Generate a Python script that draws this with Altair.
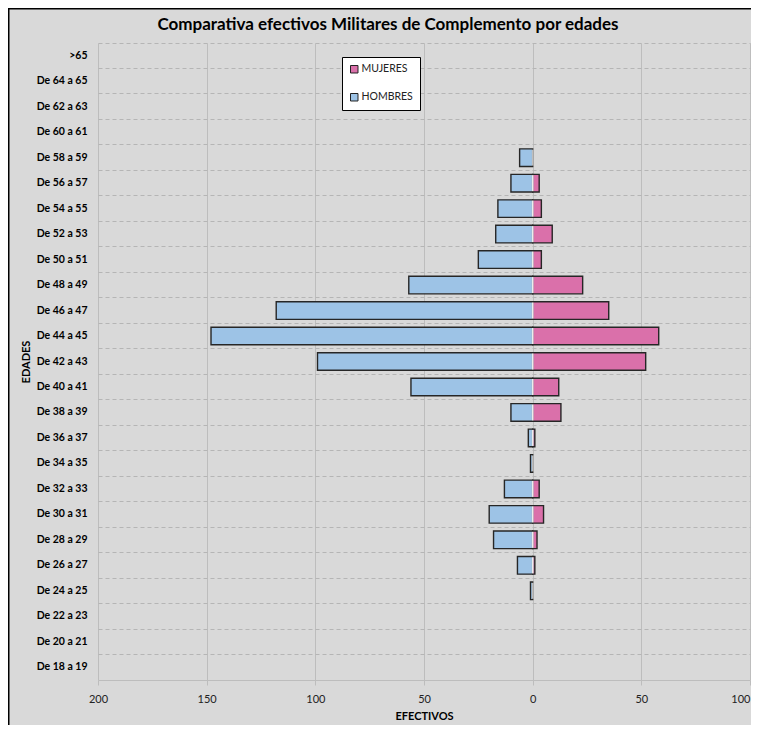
import altair as alt
import pandas as pd

edades = [">65", "De 64 a 65", "De 62 a 63", "De 60 a 61", "De 58 a 59", "De 56 a 57",
          "De 54 a 55", "De 52 a 53", "De 50 a 51", "De 48 a 49", "De 46 a 47", "De 44 a 45",
          "De 42 a 43", "De 40 a 41", "De 38 a 39", "De 36 a 37", "De 34 a 35", "De 32 a 33",
          "De 30 a 31", "De 28 a 29", "De 26 a 27", "De 24 a 25", "De 22 a 23", "De 20 a 21",
          "De 18 a 19"]
hombres = [0, 0, 0, 0, 6, 10, 16, 17, 25, 57, 118, 148, 99, 56, 10, 2, 1, 13, 20, 18, 7, 1, 0, 0, 0]
mujeres = [0, 0, 0, 0, 0, 3, 4, 9, 4, 23, 35, 58, 52, 12, 13, 1, 0, 3, 5, 2, 1, 0, 0, 0, 0]
x_ticks = [-200, -150, -100, -50, 0, 50, 100]

FONT = "Lato, Carlito, Calibri, sans-serif"

rows = []
for e, h, m in zip(edades, hombres, mujeres):
    rows.append({"edad": e, "sexo": "HOMBRES", "valor": -h})
    rows.append({"edad": e, "sexo": "MUJERES", "valor": m})
df = pd.DataFrame(rows)

W, H = 652, 637

y_enc = alt.Y(
    "edad:N",
    sort=edades,
    scale=alt.Scale(domain=edades, paddingInner=0, paddingOuter=0),
    axis=alt.Axis(
        title="EDADES", titleFont=FONT, titleFontSize=11, titleFontWeight="bold",
        titleColor="black", titlePadding=5,
        labelFont=FONT, labelFontSize=10.5, labelFontWeight="bold", labelColor="black",
        labelPadding=11, ticks=False, domain=False,
        grid=True, gridDash=[4, 3], gridColor="#b5b5b5", gridWidth=1, bandPosition=0,
    ),
)

bars = alt.Chart(df).transform_filter("datum.valor != 0").mark_bar(
    height=alt.RelativeBandSize(band=0.69), stroke="#262626", strokeWidth=1.4
).encode(
    x=alt.X(
        "valor:Q",
        scale=alt.Scale(domain=[-200, 100], nice=False, zero=False),
        axis=alt.Axis(
            values=x_ticks, labelExpr="abs(datum.value)", labelFlush=False,
            labelAlign={"condition": {"test": "datum.value == 100", "value": "right"},
                        "value": "center"},
            title="EFECTIVOS", titleFont=FONT, titleFontSize=11, titleFontWeight="bold",
            titleColor="black", titlePadding=6,
            labelFont=FONT, labelFontSize=11, labelColor="#222222", labelPadding=8,
            grid=True, gridColor="#bdbdbd", gridWidth=1,
            domain=True, domainColor="#bdbdbd", domainWidth=1.2,
            ticks=True, tickColor="#bdbdbd", tickSize=5,
        ),
    ),
    y=y_enc,
    color=alt.Color(
        "sexo:N",
        scale=alt.Scale(domain=["MUJERES", "HOMBRES"], range=["#DA70AA", "#9DC3E6"]),
        legend=alt.Legend(
            title=None, orient="none", legendX=244, legendY=14,
            fillColor="white", strokeColor="black", padding=7,
            symbolType="square", symbolSize=56, symbolStrokeColor="#222222",
            symbolStrokeWidth=1, symbolOpacity=1, rowPadding=16,
            labelFont=FONT, labelFontSize=10.5, labelColor="#222222", labelOffset=2,
        ),
    ),
)

zero_line = alt.Chart(df).transform_filter("datum.valor != 0").transform_calculate(
    cero="0"
).mark_tick(color="white", thickness=1.5, size=16, orient="vertical").encode(
    x=alt.X("cero:Q"),
    y=alt.Y("edad:N", sort=edades),
)

frame = alt.Chart(pd.DataFrame({"f": [0]})).mark_rect(
    fill=None, stroke="black", strokeWidth=3
).encode(
    x=alt.value(-90), x2=alt.value(W + 30), y=alt.value(-35), y2=alt.value(H + 60)
)

chart = alt.layer(bars, zero_line, frame).properties(
    width=W, height=H,
    autosize=alt.AutoSizeParams(type="none"),
    padding={"left": 90, "top": 35, "right": 1, "bottom": 45},
    background="#d9d9d9",
    title=alt.TitleParams(
        "Comparativa efectivos Militares  de Complemento por edades",
        font=FONT, fontSize=17, fontWeight="bold", color="black",
        anchor="middle", frame="group", dx=-36, offset=-27,
    ),
).configure_view(stroke=None)

chart.save("out.html", embed_options={"renderer": "svg", "actions": False})
